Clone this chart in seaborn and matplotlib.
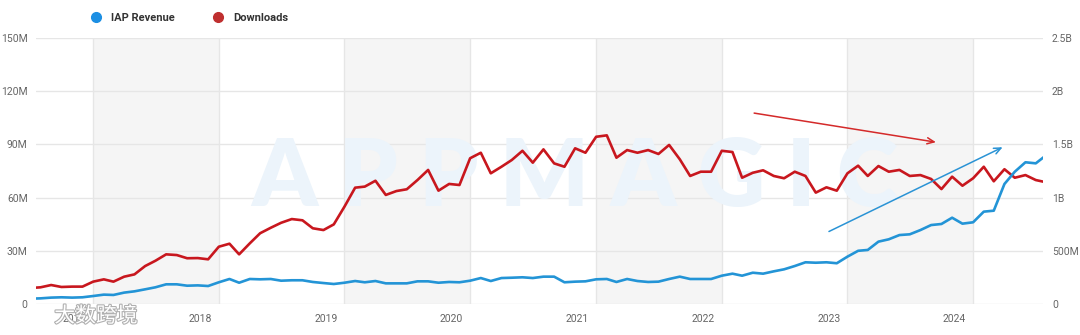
import numpy as np
import pandas as pd
import matplotlib
matplotlib.use("Agg")
import matplotlib.pyplot as plt
import seaborn as sns
from matplotlib.lines import Line2D
from matplotlib.transforms import ScaledTranslation
import matplotlib.patheffects as pe

# ---------------- data (monthly, Jul 2016 .. Aug 2024) ----------------
months = pd.date_range("2016-07-01", "2024-08-01", freq="MS")

downloads_m = [
    9.0, 9.4, 10.7, 9.6, 9.8, 9.8,                                          # 2016 Jul-Dec
    12.6, 13.9, 12.6, 15.4, 16.7, 21.4, 24.4, 28.0, 27.6, 25.8, 25.9, 25.2,  # 2017
    32.3, 34.0, 28.0, 34.2, 39.9, 43.0, 45.8, 47.9, 47.2, 42.7, 41.7, 44.9,  # 2018
    54.9, 65.6, 66.2, 69.5, 61.5, 63.7, 64.7, 69.9, 75.6, 63.9, 67.7, 67.1,  # 2019
    82.2, 85.3, 73.7, 77.4, 81.2, 86.4, 79.7, 87.2, 79.3, 77.4, 87.8, 85.3,  # 2020
    94.3, 95.1, 82.5, 86.8, 85.3, 86.8, 84.6, 89.7, 81.6, 72.2, 74.6, 74.6,  # 2021
    86.4, 85.7, 71.2, 74.0, 75.4, 72.2, 70.9, 74.6, 72.2, 62.8, 65.8, 63.9,  # 2022
    73.7, 78.0, 72.2, 77.8, 74.6, 75.6, 72.2, 72.7, 70.5, 64.8, 71.8, 66.7,  # 2023
    70.9, 77.4, 69.2, 76.0, 71.2, 72.7, 69.9, 68.6,                          # 2024 Jan-Aug
]

iap_revenue_m = [
    50, 53, 60, 63, 60, 63,
    75, 88, 85, 107, 119, 138, 157, 185, 185, 172, 175, 169,
    204, 235, 200, 235, 232, 235, 219, 223, 223, 207, 197, 188,
    200, 216, 204, 216, 194, 194, 194, 213, 213, 200, 207, 204,
    219, 244, 216, 244, 247, 251, 244, 257, 257, 204, 210, 213,
    232, 235, 207, 235, 216, 207, 210, 235, 257, 235, 235, 235,
    266, 285, 266, 294, 285, 307, 326, 357, 392, 388, 392, 383,
    445, 500, 508, 586, 608, 648, 655, 695, 742, 752, 811, 755,
    768, 868, 877, 1128, 1243, 1332, 1322, 1400,
]

years = [2017, 2018, 2019, 2020, 2021, 2022, 2023, 2024]
left_ticks = [0, 30, 60, 90, 120, 150]
left_labels = ["0", "30M", "60M", "90M", "120M", "150M"]
right_ticks = [0, 500, 1000, 1500, 2000, 2500]
right_labels = ["0", "500M", "1B", "1.5B", "2B", "2.5B"]

df = pd.DataFrame({"month": months, "Downloads": downloads_m, "IAP Revenue": iap_revenue_m})

# ---------------- style ----------------
sns.set_style("white")
plt.rcParams["font.family"] = ["Roboto", "Noto Sans CJK SC", "DejaVu Sans"]

RED = "#c8171e"
BLUE = "#2394d6"
GRID = "#e6e6e6"
TXT = "#666666"

fig = plt.figure(figsize=(10.8, 3.35), dpi=100)
fig.patch.set_facecolor("white")
ax = fig.add_axes([36 / 1080, 1 - 304 / 335, (1043 - 36) / 1080, (304 - 38) / 335])
ax2 = ax.twinx()

x0 = pd.Timestamp("2016-07-19")
x1 = pd.Timestamp("2024-07-22")

# alternating year bands
for y in years[::2]:
    ax.axvspan(pd.Timestamp(f"{y}-01-01"), pd.Timestamp(f"{y + 1}-01-01"),
               color="#f5f5f5", zorder=0, lw=0)

# watermark
ax.text(0.535, 0.47, "A P P M A G I C", transform=ax.transAxes, ha="center", va="center",
        fontsize=67, fontweight="heavy", color="#ecf4fb", zorder=0.8, family="Lato")

sns.lineplot(data=df, x="month", y="Downloads", ax=ax, color=RED, lw=1.9, zorder=3)
sns.lineplot(data=df, x="month", y="IAP Revenue", ax=ax2, color=BLUE, lw=1.9, zorder=3)

ax.set_xlim(x0, x1)
ax.set_ylim(0, 150)
ax2.set_ylim(0, 2500)
ax.set_xlabel("")
ax.set_ylabel("")
ax2.set_ylabel("")

for a in (ax, ax2):
    for s in a.spines.values():
        s.set_visible(False)

ax.set_axisbelow(True)
ax.set_yticks(left_ticks)
ax.set_yticklabels(left_labels)
ax2.set_yticks(right_ticks)
ax2.set_yticklabels(right_labels)
ax.tick_params(axis="y", length=0, pad=6, labelsize=7.5, labelcolor=TXT)
ax2.tick_params(axis="y", length=0, pad=6.5, labelsize=7.5, labelcolor=TXT)
ax.grid(axis="y", color=GRID, lw=1)
ax2.grid(False)

year_pos = [pd.Timestamp(f"{y}-01-01") for y in years]
ax.set_xticks(year_pos)
ax.set_xticklabels([str(y) for y in years])
ax.grid(axis="x", color=GRID, lw=1)
ax.tick_params(axis="x", length=6, width=1, color=GRID, pad=1.5, labelsize=7.5, labelcolor=TXT)
off = ScaledTranslation(-7 / 100, 0, fig.dpi_scale_trans)
for lab in ax.get_xticklabels():
    lab.set_ha("right")
    lab.set_transform(lab.get_transform() + off)

# trend arrows
ax.annotate("", xy=(pd.Timestamp("2023-09-23"), 91.0), xytext=(pd.Timestamp("2022-03-28"), 107.9),
            arrowprops=dict(arrowstyle="->,head_length=0.5,head_width=0.22", color="#d42a2a", lw=1.1),
            zorder=5)
ax.annotate("", xy=(pd.Timestamp("2024-04-03"), 89.1), xytext=(pd.Timestamp("2022-11-01"), 40.2),
            arrowprops=dict(arrowstyle="->,head_length=0.5,head_width=0.22", color="#2a93d5", lw=1.1),
            zorder=5)

# legend
handles = [Line2D([], [], marker="o", ls="", color="#1c8fe3", markersize=7),
           Line2D([], [], marker="o", ls="", color="#bf2f2f", markersize=7)]
leg = fig.legend(handles, ["IAP Revenue", "Downloads"], loc="center left",
                 bbox_to_anchor=(90.5 / 1080, 1 - 18 / 335), ncol=2, frameon=False,
                 borderpad=0, borderaxespad=0, handlelength=1.0, handletextpad=0.85,
                 columnspacing=3.4, prop=dict(size=8, weight="bold"))
for t in leg.get_texts():
    t.set_color("#333333")

# bottom-left watermark
fig.text(96 / 1080, 1 - 316 / 335, "大数跨境", ha="center", va="center", fontsize=15,
         color="white", family=["Noto Sans CJK SC", "DejaVu Sans"],
         path_effects=[pe.withStroke(linewidth=1.6, foreground="#b0b0b0")], zorder=10)

fig.savefig("out.png", dpi=100, facecolor="white")
